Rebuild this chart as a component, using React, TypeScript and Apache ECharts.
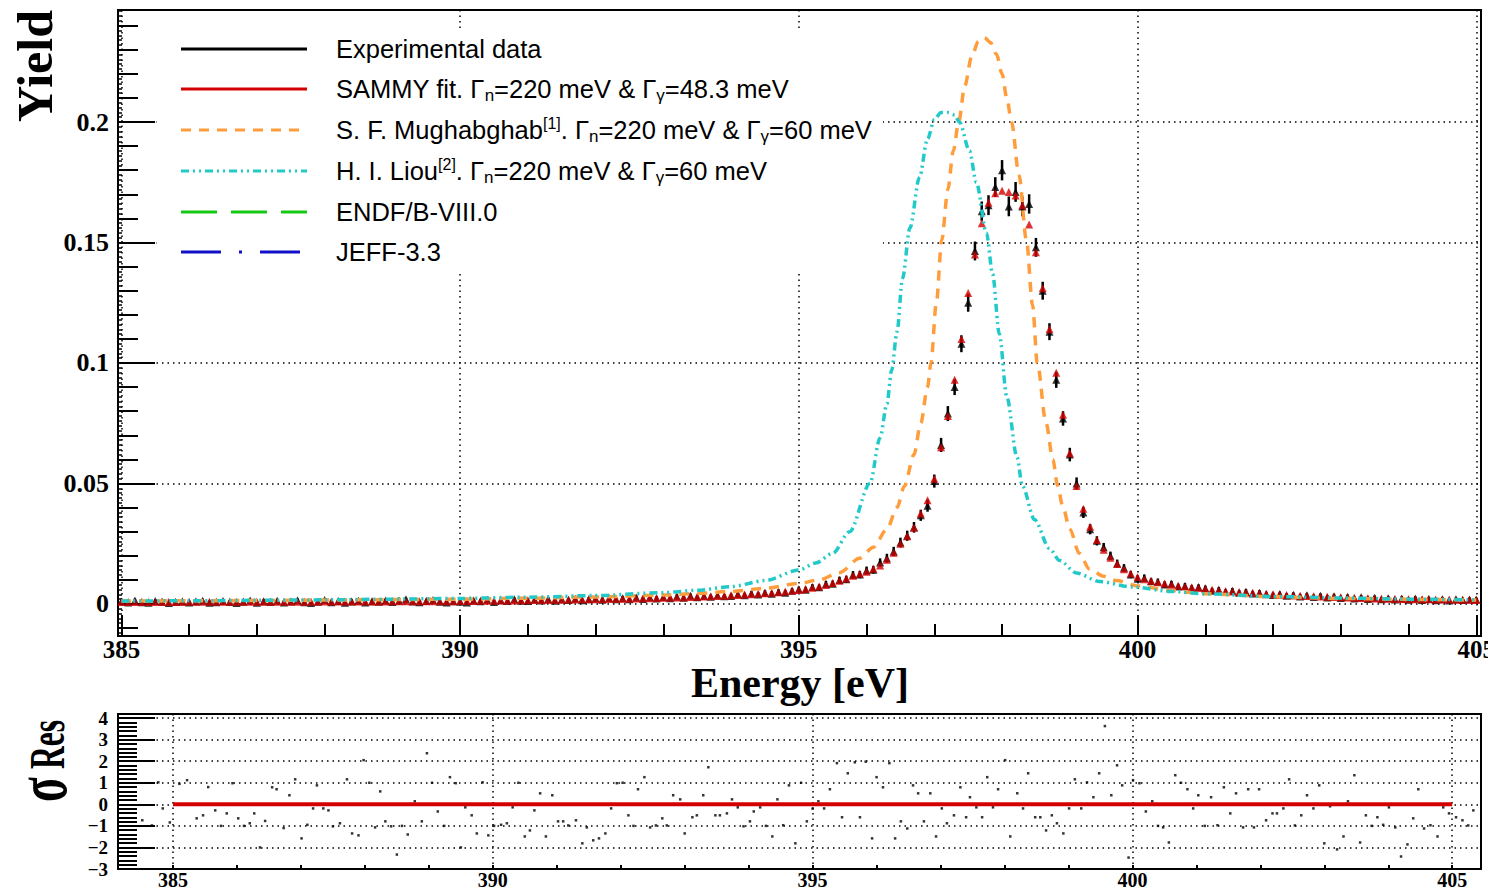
import React, { useEffect, useRef } from "react";
import * as echarts from "echarts";

// ---------- DATA ----------
const E_START = 385.0;
const E_STEP = 0.1;

// SAMMY fit yield, 385.0 ... 405.0 eV (0.1 eV bins)
const fitYield = [
  0.0008, 0.0008, 0.0008, 0.0008, 0.0008, 0.0008, 0.0008, 0.0008, 0.0008, 0.0008,
  0.0009, 0.0009, 0.0009, 0.0009, 0.0009, 0.0009, 0.0009, 0.0009, 0.0009, 0.0009,
  0.0009, 0.0009, 0.0009, 0.0009, 0.0009, 0.0009, 0.0009, 0.0009, 0.0009, 0.0009,
  0.0010, 0.0010, 0.0010, 0.0010, 0.0010, 0.0010, 0.0010, 0.0010, 0.0010, 0.0010,
  0.0011, 0.0011, 0.0011, 0.0011, 0.0011, 0.0011, 0.0011, 0.0011, 0.0011, 0.0011,
  0.0012, 0.0012, 0.0012, 0.0013, 0.0013, 0.0013, 0.0014, 0.0014, 0.0014, 0.0015,
  0.0015, 0.0016, 0.0016, 0.0016, 0.0017, 0.0017, 0.0018, 0.0018, 0.0019, 0.0019,
  0.0020, 0.0020, 0.0021, 0.0021, 0.0022, 0.0022, 0.0023, 0.0024, 0.0024, 0.0025,
  0.0026, 0.0027, 0.0027, 0.0028, 0.0029, 0.0030, 0.0031, 0.0032, 0.0033, 0.0034,
  0.0036, 0.0037, 0.0039, 0.0040, 0.0042, 0.0044, 0.0046, 0.0049, 0.0052, 0.0055,
  0.0058, 0.0062, 0.0067, 0.0072, 0.0079, 0.0087, 0.0096, 0.0106, 0.0117, 0.0125,
  0.0134, 0.0146, 0.0160, 0.0183, 0.0212, 0.0250, 0.0281, 0.0316, 0.0375, 0.0430,
  0.0520, 0.0650, 0.0780, 0.0930, 0.1100, 0.1290, 0.1450, 0.1580, 0.1665, 0.1705,
  0.1715, 0.1710, 0.1695, 0.1655, 0.1575, 0.1460, 0.1310, 0.1140, 0.0960, 0.0785,
  0.0625, 0.0490, 0.0395, 0.0320, 0.0265, 0.0225, 0.0192, 0.0166, 0.0144, 0.0126,
  0.0112, 0.0103, 0.0096, 0.0090, 0.0085, 0.0080, 0.0076, 0.0072, 0.0069, 0.0066,
  0.0062, 0.0059, 0.0056, 0.0054, 0.0052, 0.0050, 0.0048, 0.0046, 0.0044, 0.0042,
  0.0040, 0.0038, 0.0037, 0.0035, 0.0034, 0.0033, 0.0032, 0.0031, 0.0030, 0.0029,
  0.0028, 0.0027, 0.0026, 0.0025, 0.0024, 0.0023, 0.0022, 0.0022, 0.0021, 0.0021,
  0.0020, 0.0020, 0.0019, 0.0019, 0.0018, 0.0018, 0.0018, 0.0017, 0.0017, 0.0017,
  0.0016,
];

// Experimental yield, same bins
const expYield = [
  0.0010, 0.0006, 0.0014, 0.0007, 0.0005, 0.0012, 0.0009, 0.0004, 0.0008, 0.0011,
  0.0006, 0.0010, 0.0013, 0.0005, 0.0007, 0.0012, 0.0008, 0.0004, 0.0009, 0.0014,
  0.0005, 0.0011, 0.0008, 0.0013, 0.0006, 0.0010, 0.0015, 0.0007, 0.0004, 0.0009,
  0.0016, 0.0007, 0.0012, 0.0005, 0.0010, 0.0013, 0.0006, 0.0011, 0.0009, 0.0014,
  0.0008, 0.0013, 0.0019, 0.0010, 0.0007, 0.0012, 0.0016, 0.0009, 0.0006, 0.0011,
  0.0009, 0.0006, 0.0014, 0.0011, 0.0017, 0.0008, 0.0015, 0.0012, 0.0019, 0.0013,
  0.0012, 0.0018, 0.0014, 0.0021, 0.0013, 0.0019, 0.0016, 0.0022, 0.0015, 0.0020,
  0.0023, 0.0017, 0.0025, 0.0019, 0.0024, 0.0020, 0.0027, 0.0021, 0.0028, 0.0023,
  0.0029, 0.0024, 0.0031, 0.0026, 0.0034, 0.0028, 0.0033, 0.0030, 0.0036, 0.0032,
  0.0033, 0.0040, 0.0036, 0.0043, 0.0039, 0.0046, 0.0042, 0.0050, 0.0047, 0.0055,
  0.0061, 0.0059, 0.0070, 0.0069, 0.0083, 0.0084, 0.0099, 0.0103, 0.0121, 0.0122,
  0.0139, 0.0142, 0.0172, 0.0190, 0.0218, 0.0255, 0.0283, 0.0318, 0.0368, 0.0408,
  0.0510, 0.0660, 0.0790, 0.0900, 0.1080, 0.1250, 0.1465, 0.1630, 0.1655, 0.1730,
  0.1800, 0.1650, 0.1710, 0.1650, 0.1660, 0.1480, 0.1300, 0.1130, 0.0930, 0.0770,
  0.0620, 0.0500, 0.0380, 0.0310, 0.0262, 0.0235, 0.0200, 0.0168, 0.0150, 0.0122,
  0.0105, 0.0108, 0.0094, 0.0092, 0.0081, 0.0084, 0.0072, 0.0075, 0.0066, 0.0070,
  0.0065, 0.0055, 0.0059, 0.0050, 0.0055, 0.0047, 0.0051, 0.0043, 0.0046, 0.0040,
  0.0037, 0.0041, 0.0034, 0.0038, 0.0031, 0.0036, 0.0029, 0.0034, 0.0027, 0.0032,
  0.0025, 0.0030, 0.0023, 0.0028, 0.0021, 0.0026, 0.0019, 0.0024, 0.0018, 0.0023,
  0.0017, 0.0023, 0.0016, 0.0021, 0.0015, 0.0020, 0.0014, 0.0019, 0.0016, 0.0018,
  0.0018,
];

// Uncertainty of the experimental yield
const expError = [
  0.0004, 0.0004, 0.0004, 0.0004, 0.0004, 0.0004, 0.0004, 0.0004, 0.0004, 0.0004,
  0.0004, 0.0004, 0.0004, 0.0004, 0.0004, 0.0004, 0.0004, 0.0004, 0.0004, 0.0004,
  0.0004, 0.0004, 0.0004, 0.0004, 0.0004, 0.0004, 0.0004, 0.0004, 0.0004, 0.0004,
  0.0004, 0.0004, 0.0004, 0.0004, 0.0004, 0.0004, 0.0004, 0.0004, 0.0004, 0.0004,
  0.0004, 0.0004, 0.0004, 0.0004, 0.0004, 0.0004, 0.0004, 0.0004, 0.0004, 0.0004,
  0.0004, 0.0004, 0.0004, 0.0004, 0.0004, 0.0004, 0.0004, 0.0004, 0.0004, 0.0004,
  0.0004, 0.0004, 0.0004, 0.0004, 0.0004, 0.0004, 0.0004, 0.0004, 0.0004, 0.0004,
  0.0005, 0.0005, 0.0005, 0.0005, 0.0005, 0.0005, 0.0005, 0.0005, 0.0005, 0.0005,
  0.0005, 0.0005, 0.0005, 0.0005, 0.0005, 0.0005, 0.0005, 0.0005, 0.0005, 0.0005,
  0.0006, 0.0006, 0.0006, 0.0006, 0.0006, 0.0007, 0.0007, 0.0007, 0.0007, 0.0007,
  0.0007, 0.0008, 0.0008, 0.0008, 0.0009, 0.0009, 0.0010, 0.0010, 0.0011, 0.0011,
  0.0012, 0.0012, 0.0013, 0.0014, 0.0015, 0.0016, 0.0017, 0.0018, 0.0019, 0.0021,
  0.0023, 0.0025, 0.0027, 0.0029, 0.0031, 0.0033, 0.0035, 0.0036, 0.0037, 0.0037,
  0.0038, 0.0037, 0.0037, 0.0037, 0.0036, 0.0035, 0.0033, 0.0031, 0.0029, 0.0026,
  0.0024, 0.0021, 0.0019, 0.0017, 0.0015, 0.0014, 0.0013, 0.0012, 0.0011, 0.0011,
  0.0010, 0.0010, 0.0009, 0.0009, 0.0009, 0.0008, 0.0008, 0.0008, 0.0008, 0.0007,
  0.0007, 0.0007, 0.0007, 0.0007, 0.0007, 0.0007, 0.0007, 0.0007, 0.0007, 0.0007,
  0.0006, 0.0006, 0.0006, 0.0006, 0.0006, 0.0006, 0.0006, 0.0006, 0.0006, 0.0006,
  0.0005, 0.0005, 0.0005, 0.0005, 0.0005, 0.0005, 0.0005, 0.0005, 0.0005, 0.0005,
  0.0005, 0.0005, 0.0005, 0.0005, 0.0005, 0.0005, 0.0005, 0.0005, 0.0005, 0.0005,
  0.0005,
];

// S. F. Mughabghab parameters: [energy eV, yield]
const mughabghabCurve = [
  [385.0, 0.0012], [386.0, 0.0013], [387.0, 0.0014], [388.0, 0.0016], [389.0, 0.0018],
  [390.0, 0.0020], [391.0, 0.0024], [392.0, 0.0029], [393.0, 0.0037], [393.5, 0.0043],
  [394.0, 0.0052], [394.5, 0.0065], [395.0, 0.0085], [395.3, 0.0100], [395.6, 0.0130],
  [395.9, 0.0190], [396.1, 0.0235], [396.3, 0.0310], [396.45, 0.0400], [396.56, 0.0490],
  [396.7, 0.0620], [396.8, 0.0750], [396.9, 0.0900], [396.95, 0.1000], [397.03, 0.1250],
  [397.11, 0.1510], [397.2, 0.1720], [397.28, 0.1880], [397.36, 0.2000], [397.45, 0.2150],
  [397.55, 0.2270], [397.65, 0.2335], [397.74, 0.2350], [397.83, 0.2330], [397.92, 0.2280],
  [398.0, 0.2200], [398.07, 0.2100], [398.14, 0.2000], [398.25, 0.1780], [398.36, 0.1510],
  [398.45, 0.1240], [398.52, 0.1000], [398.65, 0.0750], [398.75, 0.0600], [398.82, 0.0490],
  [398.9, 0.0400], [399.0, 0.0310], [399.14, 0.0210], [399.29, 0.0145], [399.5, 0.0115],
  [399.69, 0.0097], [400.0, 0.0075], [400.5, 0.0055], [401.0, 0.0042], [402.0, 0.0030],
  [403.0, 0.0023], [404.0, 0.0019], [405.0, 0.0016],
];

// H. I. Liou parameters: [energy eV, yield]
const liouCurve = [
  [385.0, 0.0012], [386.0, 0.0013], [387.0, 0.0015], [388.0, 0.0017], [389.0, 0.0020],
  [390.0, 0.0023], [391.0, 0.0028], [392.0, 0.0035], [393.0, 0.0047], [393.5, 0.0057],
  [394.0, 0.0072], [394.5, 0.0097], [395.0, 0.0141], [395.25, 0.0170], [395.5, 0.0210],
  [395.75, 0.0300], [396.05, 0.0500], [396.2, 0.0690], [396.3, 0.0830], [396.37, 0.0970],
  [396.45, 0.1130], [396.53, 0.1350], [396.64, 0.1560], [396.78, 0.1770], [396.9, 0.1930],
  [397.0, 0.2010], [397.1, 0.2040], [397.2, 0.2040], [397.3, 0.2030], [397.37, 0.2000],
  [397.52, 0.1880], [397.62, 0.1750], [397.77, 0.1540], [397.86, 0.1370], [397.96, 0.1120],
  [398.07, 0.0860], [398.22, 0.0610], [398.3, 0.0490], [398.48, 0.0350], [398.7, 0.0230],
  [398.85, 0.0180], [399.1, 0.0128], [399.44, 0.0093], [399.93, 0.0070], [400.5, 0.0052],
  [401.0, 0.0042], [402.0, 0.0031], [403.0, 0.0025], [404.0, 0.0020], [405.0, 0.0017],
];

// Normalised residuals: [energy eV, sigma]
const residuals = [
  [384.52, -0.74], [384.67, -0.98], [384.77, 1.02], [384.84, -0.19], [384.95, -0.84],
  [385.1, 0.95], [385.22, 1.12], [385.37, -0.65], [385.47, -0.51], [385.55, 0.8],
  [385.66, -0.28], [385.75, -1.0], [385.84, -0.42], [385.93, 0.98], [386.02, -0.65],
  [386.11, -1.0], [386.2, -0.88], [386.27, -0.42], [386.36, -2.0], [386.44, -0.77],
  [386.55, 0.79], [386.62, 0.7], [386.73, -1.1], [386.82, 0.42], [386.91, 1.16],
  [387.01, -1.58], [387.1, -0.95], [387.19, -0.19], [387.25, 0.88], [387.35, -0.19],
  [387.43, -0.28], [387.5, -1.02], [387.61, -0.88], [387.72, 1.16], [387.8, -1.35],
  [387.9, -1.44], [387.98, 2.05], [388.07, 1.0], [388.16, -1.07], [388.24, 0.6],
  [388.32, -0.79], [388.41, -1.02], [388.5, -2.33], [388.58, -1.0], [388.67, -1.4],
  [388.78, 0.14], [388.89, -0.79], [388.97, 2.37], [389.05, 1.0], [389.14, -0.33],
  [389.24, -1.0], [389.33, 1.26], [389.42, 0.98], [389.5, -2.0], [389.57, -0.14],
  [389.67, -0.51], [389.75, -1.35], [389.84, 1.02], [389.93, -1.44], [390.02, -1.0],
  [390.13, -0.95], [390.22, -0.88], [390.31, -0.14], [390.4, 1.0], [390.5, -1.49],
  [390.58, -1.21], [390.65, -0.28], [390.74, 0.51], [390.83, -1.49], [390.93, 0.42],
  [391.02, -0.79], [391.1, -0.79], [391.18, -0.98], [391.3, -0.74], [391.4, -1.81],
  [391.47, -1.07], [391.57, -1.67], [391.66, -1.58], [391.76, -1.35], [391.85, -0.19],
  [391.94, 0.98], [392.03, 1.0], [392.12, -0.51], [392.2, -1.0], [392.27, 0.7],
  [392.37, 1.26], [392.46, -1.07], [392.55, -0.98], [392.65, -0.65], [392.72, -0.98],
  [392.82, 0.42], [392.93, 0.23], [393.0, -1.35], [393.12, -0.6], [393.19, -0.51],
  [393.29, 0.42], [393.37, 1.72], [393.48, -0.51], [393.55, -0.51], [393.66, -0.42],
  [393.74, 0.23], [393.83, -0.14], [393.92, -1.02], [394.02, -0.79], [394.08, -0.33],
  [394.18, -0.14], [394.27, -1.0], [394.37, -1.49], [394.45, 0.23], [394.54, -0.97],
  [394.63, 0.88], [394.73, -1.81], [394.82, 1.0], [394.91, -0.79], [395.0, -0.2],
  [395.09, 0.14], [395.18, -0.19], [395.27, 0.7], [395.38, 1.91], [395.46, -0.6],
  [395.55, 1.44], [395.66, 1.95], [395.74, -0.6], [395.83, 1.98], [395.93, -1.58],
  [396.0, 1.26], [396.1, 0.79], [396.2, 1.91], [396.29, -1.58], [396.38, -0.79],
  [396.48, -1.12], [396.57, 0.88], [396.65, 0.51], [396.74, -0.79], [396.84, 0.51],
  [396.93, -1.49], [397.02, -0.19], [397.1, -0.88], [397.21, -0.51], [397.31, 0.79],
  [397.4, -0.6], [397.46, 0.33], [397.56, -0.14], [397.65, -0.6], [397.73, 1.26],
  [397.82, -0.14], [397.9, 0.7], [398.01, 2.05], [398.09, -1.49], [398.2, 0.51],
  [398.29, -0.19], [398.37, 1.44], [398.48, -0.6], [398.56, -0.6], [398.65, -1.21],
  [398.74, -0.51], [398.82, -0.88], [398.92, -1.35], [399.01, -0.19], [399.1, 1.16],
  [399.2, -0.19], [399.29, 1.02], [399.39, 0.33], [399.48, 1.44], [399.57, 3.63],
  [399.67, 0.42], [399.76, 1.81], [399.84, 0.88], [399.94, -2.47], [400.01, 1.12],
  [400.11, 0.98], [400.21, -0.33], [400.31, 0.14], [400.4, -1.0], [400.48, -1.07],
  [400.57, -1.77], [400.67, 1.35], [400.76, 1.0], [400.86, 0.7], [400.95, -0.19],
  [401.03, 0.42], [401.13, -1.0], [401.23, 0.33], [401.33, -0.97], [401.43, 0.79],
  [401.53, -0.42], [401.62, 0.51], [401.73, -1.07], [401.81, 0.7], [401.9, -1.07],
  [401.98, 0.7], [402.09, -0.74], [402.19, -0.42], [402.26, -0.42], [402.36, -0.19],
  [402.45, 1.16], [402.54, -0.98], [402.64, -0.51], [402.73, 0.42], [402.83, -0.19],
  [402.92, 0.88], [403.0, -1.81], [403.09, -0.09], [403.2, -2.09], [403.3, -1.49],
  [403.37, 0.14], [403.47, 1.35], [403.56, -1.77], [403.65, -0.51], [403.74, -1.0],
  [403.83, -0.6], [403.92, -0.95], [404.01, -0.14], [404.11, -1.07], [404.2, -2.42],
  [404.3, -1.86], [404.39, -0.65], [404.47, 0.7], [404.56, -1.12], [404.66, -0.97],
  [404.77, -1.49], [404.86, -0.14], [404.95, -0.42], [405.06, -0.6], [405.16, -0.74],
  [405.25, -0.98], [405.33, -0.28],
];

// Range of the fit (red zero line in the residual panel)
const fitRange = [385, 405];

const legendLabels = [
  "Experimental data",
  "{b|SAMMY fit. Γ}{sub|n}{b|=220 meV & Γ}{sub|γ}{b|=48.3 meV}",
  "{b|S. F. Mughabghab}{sup|[1]}{b|. Γ}{sub|n}{b|=220 meV & Γ}{sub|γ}{b|=60 meV}",
  "{b|H. I. Liou}{sup|[2]}{b|. Γ}{sub|n}{b|=220 meV & Γ}{sub|γ}{b|=60 meV}",
  "ENDF/B-VIII.0",
  "JEFF-3.3",
];

// ---------- STYLE ----------
const SERIF = "'Liberation Serif', 'Times New Roman', serif";
const SANS = "'Liberation Sans', Arial, Helvetica, sans-serif";
const C_RED = "#d40000";
const C_ORANGE = "#ff9d3c";
const C_CYAN = "#22c9c9";
const C_GREEN = "#14c814";
const C_BLUE = "#1010c8";

const legendStyles = [
  { color: "#000", dash: null as number[] | null },
  { color: C_RED, dash: null },
  { color: C_ORANGE, dash: [10, 8] },
  { color: C_CYAN, dash: [8, 4, 2, 4, 2, 4] },
  { color: C_GREEN, dash: [36, 14] },
  { color: C_BLUE, dash: [40, 18, 3, 18] },
];

const dotted = { show: true, lineStyle: { color: "#000", width: 1.5, type: [1.5, 4] } };

export default function App() {
  const ref = useRef<HTMLDivElement>(null);

  useEffect(() => {
    if (!ref.current) return;
    const chart = echarts.init(ref.current, null, { renderer: "svg" });

    const energies = fitYield.map((_, i) => Math.round((E_START + i * E_STEP) * 100) / 100);
    const expData = energies.map((e, i) => [e, expYield[i], expError[i]]);
    const fitData = energies.map((e, i) => [e, fitYield[i]]);

    const rowY = [49, 89, 130, 171, 212, 252];
    const richStyles = {
      b: { fontSize: 25.5, fontFamily: SANS, lineHeight: 30, fill: "#000" },
      sub: { fontSize: 17, fontFamily: SANS, lineHeight: 13, verticalAlign: "bottom", fill: "#000" },
      sup: { fontSize: 16, fontFamily: SANS, lineHeight: 14, verticalAlign: "top", fill: "#000" },
    };

    const legendGraphics: any[] = [];
    legendLabels.forEach((label, i) => {
      const st = legendStyles[i];
      legendGraphics.push({
        type: "line",
        z: 10,
        silent: true,
        shape: { x1: 181, y1: rowY[i], x2: 307, y2: rowY[i] },
        style: { stroke: st.color, lineWidth: 3, lineDash: st.dash || undefined },
      });
      legendGraphics.push({
        type: "text",
        z: 10,
        silent: true,
        x: 336,
        y: rowY[i],
        style: {
          text: label.indexOf("{") >= 0 ? label : `{b|${label}}`,
          rich: richStyles,
          fontSize: 25.5,
          fontFamily: SANS,
          fill: "#000",
          align: "left",
          verticalAlign: "middle",
        },
      });
    });

    const option: any = {
      animation: false,
      backgroundColor: "#fff",
      textStyle: { fontFamily: SERIF },
      grid: [
        { left: 118, top: 10, width: 1363, height: 626, show: true, borderColor: "#000", borderWidth: 2, backgroundColor: "rgba(0,0,0,0)", outerBoundsMode: "none", containLabel: false },
        { left: 118, top: 714, width: 1363, height: 155, show: true, borderColor: "#000", borderWidth: 2, backgroundColor: "rgba(0,0,0,0)", outerBoundsMode: "none", containLabel: false },
      ],
      xAxis: [
        {
          type: "value", gridIndex: 0, position: "bottom", min: 384.95, max: 405.07, splitNumber: 4,
          axisLine: { show: true, onZero: false, lineStyle: { color: "#000", width: 2 } },
          axisTick: { show: true, inside: true, length: 21, lineStyle: { color: "#000", width: 2 } },
          minorTick: { show: true, splitNumber: 5, length: 12, lineStyle: { color: "#000", width: 2 } },
          splitLine: dotted,
          axisLabel: { showMinLabel: false, showMaxLabel: false, margin: 3, lineHeight: 20, color: "#000", fontFamily: SERIF, fontWeight: "bold", fontSize: 25 },
        },
        {
          type: "value", gridIndex: 1, position: "bottom", min: 384.14, max: 405.45, splitNumber: 4,
          axisLine: { show: true, onZero: false, lineStyle: { color: "#000", width: 2 } },
          axisTick: { show: true, inside: true, length: 4, lineStyle: { color: "#000", width: 2 } },
          minorTick: { show: true, splitNumber: 5, length: 4, lineStyle: { color: "#000", width: 2 } },
          splitLine: dotted,
          axisLabel: { showMinLabel: false, showMaxLabel: false, margin: 3, lineHeight: 16, color: "#000", fontFamily: SERIF, fontWeight: "bold", fontSize: 20 },
        },
      ],
      yAxis: [
        {
          type: "value", gridIndex: 0, position: "left", min: -0.0133, max: 0.2465, splitNumber: 5,
          axisLine: { show: true, onZero: false, lineStyle: { color: "#000", width: 2 } },
          axisTick: { show: true, inside: true, length: 37, lineStyle: { color: "#000", width: 2 } },
          minorTick: { show: true, splitNumber: 5, length: 20, lineStyle: { color: "#000", width: 2 } },
          splitLine: dotted,
          axisLabel: { showMinLabel: false, showMaxLabel: false, margin: 9, color: "#000", fontFamily: SERIF, fontWeight: "bold", fontSize: 26 },
        },
        {
          type: "value", gridIndex: 0, position: "left", min: -0.0133, max: 0.2465, splitNumber: 26,
          axisLine: { show: false, onZero: false },
          axisTick: { show: true, inside: true, length: 4, lineStyle: { color: "#000", width: 1.5 } },
          minorTick: { show: true, splitNumber: 5, length: 4, lineStyle: { color: "#000", width: 1.5 } },
          splitLine: { show: false },
          axisLabel: { show: false },
        },
        {
          type: "value", gridIndex: 1, position: "left", min: -3, max: 4.19, interval: 1,
          axisLine: { show: true, onZero: false, lineStyle: { color: "#000", width: 2 } },
          axisTick: { show: true, inside: true, length: 37, lineStyle: { color: "#000", width: 2 } },
          minorTick: { show: true, splitNumber: 5, length: 19, lineStyle: { color: "#000", width: 2 } },
          splitLine: dotted,
          axisLabel: {
            showMaxLabel: false, margin: 10, lineHeight: 16, color: "#000", fontFamily: SERIF, fontWeight: "bold", fontSize: 19,
            formatter: (v: number) => String(v).replace("-", "\u2212"),
          },
        },
      ],
      graphic: [
        { type: "rect", z: 1, silent: true, shape: { x: 157, y: 29, width: 726, height: 242 }, style: { fill: "#fff" } },
        ...legendGraphics,
        {
          type: "text", x: 35, y: 10, rotation: Math.PI / 2, silent: true,
          style: { text: "Yield", fontSize: 50, fontWeight: "bold", fontFamily: SERIF, fill: "#000", align: "right", verticalAlign: "middle" },
        },
        {
          type: "text", x: 800, y: 683, silent: true,
          style: { text: "Energy [eV]", fontSize: 42, lineHeight: 32, fontWeight: "bold", fontFamily: SERIF, fill: "#000", align: "center", verticalAlign: "middle" },
        },
        {
          type: "text", x: 41, y: 802, rotation: Math.PI / 2, scaleX: 0.63, silent: true,
          style: { text: "σ", fontSize: 72, lineHeight: 60, fontWeight: "bold", fontFamily: SERIF, fill: "#000", align: "left", verticalAlign: "middle" },
        },
        {
          type: "text", x: 47, y: 769, rotation: Math.PI / 2, scaleX: 0.63, silent: true,
          style: { text: "Res", fontSize: 50, lineHeight: 44, fontWeight: "bold", fontFamily: SERIF, fill: "#000", align: "left", verticalAlign: "middle" },
        },
      ],
      series: [
        {
          name: "Experimental data error",
          type: "custom",
          xAxisIndex: 0,
          yAxisIndex: 0,
          coordinateSystem: "cartesian2d",
          silent: true,
          z: 2,
          encode: { x: 0, y: 1 },
          data: expData,
          renderItem: (_params: any, api: any) => {
            const x = api.value(0);
            const y = api.value(1);
            const e = api.value(2);
            const p1 = api.coord([x, y - e]);
            const p2 = api.coord([x, y + e]);
            return {
              type: "line",
              shape: { x1: p1[0], y1: p1[1] + 1, x2: p2[0], y2: p2[1] - 1 },
              style: { stroke: "#000", lineWidth: 2.5 },
            };
          },
        },
        {
          name: "Experimental data",
          type: "scatter",
          xAxisIndex: 0,
          yAxisIndex: 0,
          silent: true,
          z: 3,
          symbol: "triangle",
          symbolSize: 8,
          itemStyle: { color: "#000" },
          data: expData.map((d) => [d[0], d[1]]),
        },
        {
          name: "SAMMY fit",
          type: "scatter",
          xAxisIndex: 0,
          yAxisIndex: 0,
          silent: true,
          z: 4,
          symbol: "triangle",
          symbolSize: 8,
          itemStyle: { color: C_RED },
          data: fitData,
        },
        {
          name: "S. F. Mughabghab",
          type: "line",
          xAxisIndex: 0,
          yAxisIndex: 0,
          silent: true,
          z: 5,
          symbol: "none",
          smooth: 0.3,
          smoothMonotone: "x",
          lineStyle: { color: C_ORANGE, width: 3.5, type: [10, 8] },
          data: mughabghabCurve,
        },
        {
          name: "H. I. Liou",
          type: "line",
          xAxisIndex: 0,
          yAxisIndex: 0,
          silent: true,
          z: 6,
          symbol: "none",
          smooth: 0.3,
          smoothMonotone: "x",
          lineStyle: { color: C_CYAN, width: 3.5, type: [8, 4, 2, 4, 2, 4] },
          data: liouCurve,
        },
        {
          name: "Residuals",
          type: "scatter",
          xAxisIndex: 1,
          yAxisIndex: 2,
          silent: true,
          z: 3,
          symbol: "rect",
          symbolSize: 2.5,
          itemStyle: { color: "#000" },
          data: residuals,
        },
        {
          name: "Zero",
          type: "line",
          xAxisIndex: 1,
          yAxisIndex: 2,
          silent: true,
          z: 4,
          symbol: "none",
          lineStyle: { color: C_RED, width: 4 },
          data: [[fitRange[0], 0], [fitRange[1], 0]],
        },
      ],
    };

    chart.setOption(option);
    return () => chart.dispose();
  }, []);

  return (
    <div
      ref={ref}
      style={{ position: "fixed", left: 0, top: 0, width: 1488, height: 891, background: "#fff" }}
    />
  );
}
